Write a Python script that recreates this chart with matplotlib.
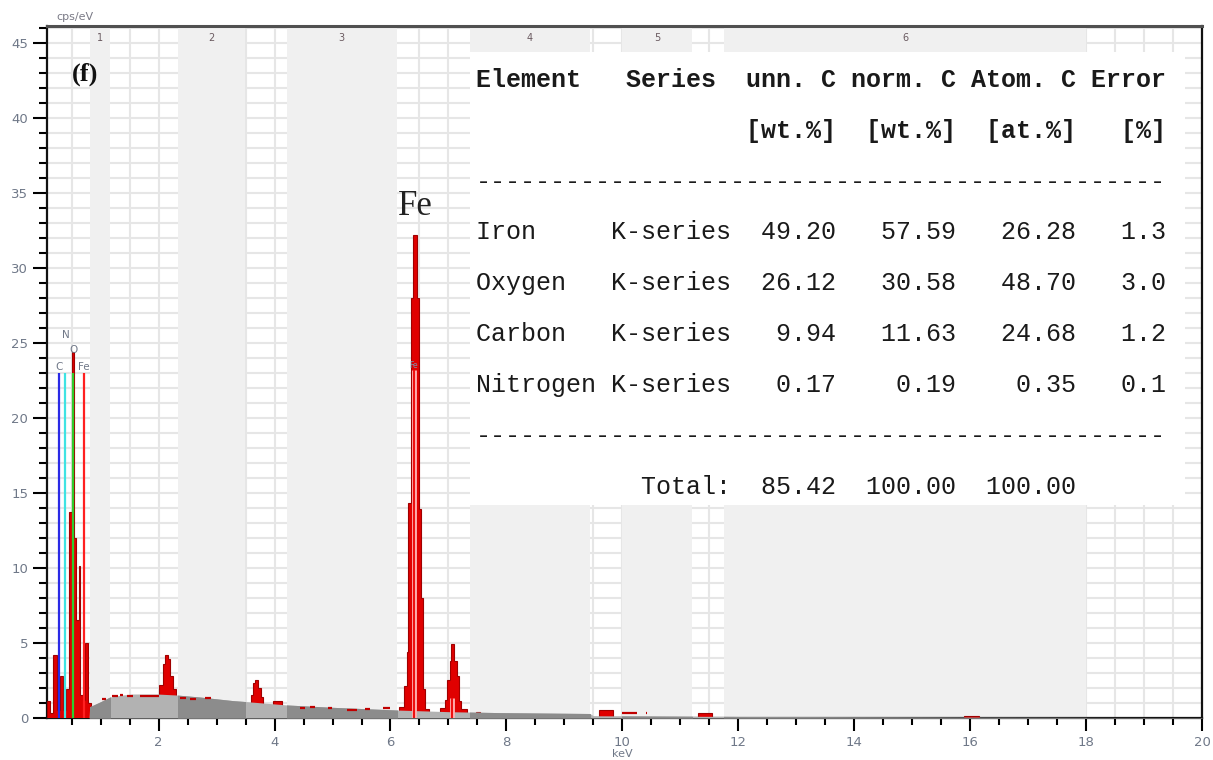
import matplotlib
matplotlib.use("Agg")
import matplotlib.pyplot as plt
import matplotlib.patheffects as pe
from matplotlib.patches import Rectangle
from matplotlib.ticker import MultipleLocator

# region-of-interest bands (keV) shown as grey columns
ROI_LO = [0.82, 2.33, 4.21, 7.37, 9.99, 11.76]
ROI_HI = [1.16, 3.49, 6.11, 9.44, 11.21, 18.00]
ROI_NAMES = ["1", "2", "3", "4", "5", "6"]

# fitted bremsstrahlung background
BG_KEV = [0.80, 0.81, 1.00, 1.16, 1.35, 1.56, 1.97, 2.32, 2.71, 3.28, 3.52, 4.21,
          5.01, 6.13, 7.02, 7.88, 9.44, 9.50, 12.0, 14.0, 16.0, 18.0, 20.0]
BG_CPS = [0.00, 0.75, 1.09, 1.40, 1.52, 1.60, 1.60, 1.53, 1.40, 1.16, 1.09, 0.87,
          0.71, 0.53, 0.42, 0.36, 0.30, 0.15, 0.10, 0.07, 0.05, 0.04, 0.03]

# measured spectrum: bin edges (keV) and counts (cps) for each peak group
LOW_EDGES = [0.07, 0.125, 0.18, 0.24, 0.29, 0.345, 0.41, 0.45, 0.50, 0.54, 0.58,
             0.63, 0.65, 0.70, 0.73, 0.78, 0.84]
LOW_CPS = [1.1, 0.35, 4.2, 0.5, 2.8, 0.5, 1.9, 13.7, 24.4, 12.0, 6.5, 10.1, 1.5,
           1.2, 5.0, 1.0]
P21_EDGES = [2.00, 2.07, 2.11, 2.16, 2.20, 2.24, 2.30]
P21_CPS = [2.2, 3.6, 4.2, 3.9, 2.8, 1.9]
CA_EDGES = [3.59, 3.63, 3.67, 3.72, 3.76, 3.80]
CA_CPS = [1.5, 2.3, 2.55, 2.0, 1.4]
CAKB_EDGES = [3.97, 4.12]
CAKB_CPS = [1.15]
FEKA_EDGES = [6.14, 6.23, 6.28, 6.31, 6.35, 6.38, 6.45, 6.50, 6.53, 6.56, 6.59, 6.66]
FEKA_CPS = [0.7, 2.1, 4.4, 14.3, 28.0, 32.2, 28.0, 13.9, 8.0, 1.9, 0.6]
FEKB_EDGES = [6.85, 6.94, 6.97, 7.02, 7.05, 7.10, 7.14, 7.18, 7.22, 7.32]
FEKB_CPS = [0.64, 1.2, 2.5, 3.8, 4.9, 3.8, 2.8, 1.1, 0.6]
MINOR_EDGES = [[7.48, 7.54], [9.60, 9.83], [11.30, 11.55], [15.90, 16.16]]
MINOR_CPS = [[0.4], [0.55], [0.3], [0.1]]

# noisy channels sitting on the background (start keV, end keV, cps)
NOISE_LO = [1.02, 1.19, 1.33, 1.45, 1.68, 2.37, 2.54, 2.80, 4.44, 4.61, 4.92, 5.25,
            5.56, 5.87, 10.00, 10.40]
NOISE_HI = [1.10, 1.30, 1.39, 1.56, 2.00, 2.48, 2.65, 2.90, 4.53, 4.69, 4.99, 5.42,
            5.64, 5.99, 10.25, 10.43]
NOISE_CPS = [1.24, 1.47, 1.55, 1.45, 1.47, 1.31, 1.24, 1.30, 0.64, 0.71, 0.65, 0.53,
             0.58, 0.64, 0.33, 0.30]

# element marker lines
MARK_NAMES = ["C", "N", "O", "Fe"]
MARK_KEV = [0.277, 0.392, 0.525, 0.705]
MARK_TOP = [23.0, 23.0, 23.0, 23.0]
MARK_LABEL_Y = [23.4, 25.5, 24.5, 23.4]
MARK_COLORS = ["#2a2ae6", "#3fe3e3", "#2ecc2e", "#ff2020"]
FE_K_KEV = [6.40, 7.06]
FE_K_TOP = [23.2, 1.3]

# quantification table
ELEMENTS = ["Iron", "Oxygen", "Carbon", "Nitrogen"]
SERIES = ["K-series", "K-series", "K-series", "K-series"]
UNN_C = [49.20, 26.12, 9.94, 0.17]
NORM_C = [57.59, 30.58, 11.63, 0.19]
ATOM_C = [26.28, 48.70, 24.68, 0.35]
ERROR = [1.3, 3.0, 1.2, 0.1]
TOTALS = [85.42, 100.00, 100.00]

RED = "#e00000"
EDGE = "#a00000"
TICK_COLOR = "#6f7888"

fig = plt.figure(figsize=(12.13, 7.6), dpi=100)
ax = fig.add_axes([47 / 1213, 42 / 760, 1155 / 1213, 692 / 760])
ax.set_xlim(0.074, 20)
ax.set_ylim(0, 46.13)

# grid, then grey ROI columns over it
ax.set_axisbelow(True)
ax.xaxis.set_major_locator(MultipleLocator(2))
ax.xaxis.set_minor_locator(MultipleLocator(0.5))
ax.yaxis.set_major_locator(MultipleLocator(5))
ax.yaxis.set_minor_locator(MultipleLocator(1))
ax.grid(which="both", color="#e6e6e6", lw=1.5)
for lo, hi, name in zip(ROI_LO, ROI_HI, ROI_NAMES):
    ax.axvspan(lo, hi, color="#f0f0f0", lw=0, zorder=1)
    ax.text((lo + hi) / 2, 45.3, name, ha="center", va="center", fontsize=7,
            color="#6a5a60", zorder=8)

# white panel holding the results table
ax.add_patch(Rectangle((7.367, 14.2), 12.34, 30.2, facecolor="white", lw=0, zorder=1.5))

# spectrum peaks
groups = [(LOW_EDGES, LOW_CPS), (P21_EDGES, P21_CPS), (CA_EDGES, CA_CPS),
          (CAKB_EDGES, CAKB_CPS), (FEKA_EDGES, FEKA_CPS), (FEKB_EDGES, FEKB_CPS)]
groups += list(zip(MINOR_EDGES, MINOR_CPS))
for edges, cps in groups:
    ax.stairs(cps, edges, fill=True, facecolor=RED, edgecolor=EDGE, lw=0.8, zorder=3)

# background, darker inside the ROI columns
ax.fill_between(BG_KEV, 0, BG_CPS, color="#b2b2b2", lw=0, zorder=4)
for lo, hi in zip(ROI_LO, ROI_HI):
    dark = ax.fill_between(BG_KEV, 0, BG_CPS, color="#8c8c8c", lw=0, zorder=4.1)
    dark.set_clip_path(Rectangle((lo, 0), hi - lo, 50, transform=ax.transData))

ax.hlines(NOISE_CPS, NOISE_LO, NOISE_HI, color="#c00000", lw=1.6, zorder=5)

# element markers
for name, kev, top, ly, col in zip(MARK_NAMES, MARK_KEV, MARK_TOP, MARK_LABEL_Y,
                                   MARK_COLORS):
    ax.vlines(kev, 0, top, color=col, lw=1.6, zorder=6)
    ax.text(kev, ly, name, ha="center", va="center", fontsize=7.5, color="#707888",
            zorder=7)
halo = [pe.withStroke(linewidth=3.5, foreground="#ffb0b0")]
for kev, top in zip(FE_K_KEV, FE_K_TOP):
    ax.vlines(kev, 0, top, color="#ee1010", lw=1.5, zorder=6, path_effects=halo)
ax.text(FE_K_KEV[0], FE_K_TOP[0] + 0.3, "Fe", ha="center", va="center", fontsize=5.5,
        color="#8090a8", zorder=7)

ax.text(6.437, 34.13, "Fe", ha="center", va="center", fontsize=25,
        family="Liberation Serif", color="#222222", zorder=8)
ax.text(0.73, 42.9, "(f)", ha="center", va="center", fontsize=19,
        family="Liberation Serif", fontweight="bold", color="#111111", zorder=8)

# results table, monospaced
x0 = 7.47
row_y = [42.53, 39.13, 35.73, 32.4, 29.0, 25.6, 22.2, 18.8, 15.4]
header = "Element   Series  unn. C norm. C Atom. C Error"
units = " " * 18 + "[wt.%]  [wt.%]  [at.%]   [%]"
rule = "-" * 46
rows = [f"{e:<9}{s:<8}{u:>7.2f}{n:>8.2f}{a:>8.2f}{er:>6.1f}"
        for e, s, u, n, a, er in zip(ELEMENTS, SERIES, UNN_C, NORM_C, ATOM_C, ERROR)]
total = f"{'Total:':>17}{TOTALS[0]:>7.2f}{TOTALS[1]:>8.2f}{TOTALS[2]:>8.2f}"
lines = [(header, "bold"), (units, "bold"), (rule, "normal")]
lines += [(r, "normal") for r in rows]
lines += [(rule, "normal"), (total, "normal")]
for (txt, weight), y in zip(lines, row_y):
    ax.text(x0, y, txt, ha="left", va="center", fontsize=18, family="Liberation Mono",
            fontweight=weight, color="#1a1a1a", zorder=8)

# axes frame and ticks
for side in ["left", "bottom", "right"]:
    ax.spines[side].set_color("#111111")
    ax.spines[side].set_linewidth(1.6)
ax.spines["top"].set_color("#505050")
ax.spines["top"].set_linewidth(2.2)
ax.tick_params(axis="y", which="major", length=10, width=1.5, pad=3.5,
               labelsize=9.5, labelcolor=TICK_COLOR)
ax.tick_params(axis="y", which="minor", length=5.5, width=1.5)
ax.tick_params(axis="x", which="major", length=9, width=1.5, pad=4,
               labelsize=9.5, labelcolor=TICK_COLOR)
ax.tick_params(axis="x", which="minor", length=5, width=1.5)
ax.set_xticks(range(2, 21, 2))

fig.text(75 / 1213, 1 - 17 / 760, "cps/eV", ha="center", va="center", fontsize=8,
         color="#7a7a86")
fig.text(622 / 1213, 1 - 754 / 760, "keV", ha="center", va="center", fontsize=8,
         color=TICK_COLOR)

fig.savefig("out.png", dpi=100)
